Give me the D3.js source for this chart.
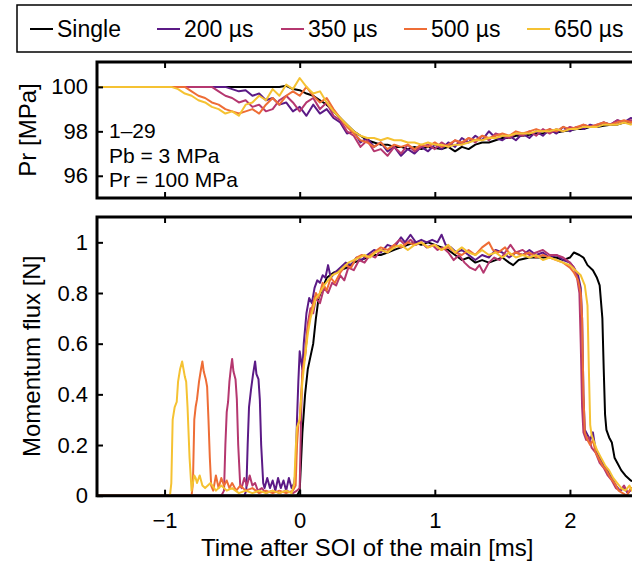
<!DOCTYPE html>
<html>
<head>
<meta charset="utf-8">
<script src="https://cdn.jsdelivr.net/npm/d3@7"></script>
<style>
  body { margin: 0; background: #fff; }
  text { font-family: "Liberation Sans", Arial, sans-serif; fill: #000; }
</style>
</head>
<body>
<div id="area"></div>
<script>
// series names and colours
var seriesNames = ['Single', '200 µs', '350 µs', '500 µs', '650 µs'];
var seriesColors = ['#000000', '#5b1a86', '#b5376f', '#ee6d36', '#f5c232'];

// top panel: rail pressure [MPa] on a shared time grid [ms]
var prTime = [-1.5, -1.0, -0.95, -0.9, -0.85, -0.8, -0.75, -0.7, -0.65, -0.6, -0.55, -0.5, -0.45, -0.4, -0.35, -0.3, -0.25, -0.2, -0.15, -0.1, -0.05, 0,
  0.05, 0.1, 0.15, 0.2, 0.25, 0.3, 0.35, 0.4, 0.45, 0.5, 0.55, 0.6, 0.65, 0.7, 0.75, 0.8, 0.85, 0.9, 0.95, 1.0,
  1.05, 1.1, 1.15, 1.2, 1.25, 1.3, 1.35, 1.4, 1.45, 1.5, 1.55, 1.6, 1.65, 1.7, 1.75, 1.8, 1.85, 1.9, 1.95, 2.0,
  2.05, 2.1, 2.15, 2.2, 2.25, 2.3, 2.35, 2.4, 2.45, 2.5];

var prSingle = [100, 100, 100, 100, 100, 100, 100, 100, 100, 100, 100, 100, 100, 100, 100, 100, 100, 100, 100, 100.05, 99.9, 99.85,
  99.7, 99.6, 99.4, 99.2, 98.9, 98.6, 98.3, 98.0, 97.8, 97.6, 97.5, 97.4, 97.4, 97.3, 97.3, 97.2, 97.3, 97.2, 97.3, 97.25,
  97.2, 97.3, 97.1, 97.3, 97.2, 97.4, 97.5, 97.5, 97.6, 97.7, 97.7, 97.8, 97.8, 97.85, 97.9, 97.9, 98.0, 97.95, 98.0, 98.05,
  98.1, 98.1, 98.2, 98.2, 98.25, 98.3, 98.3, 98.4, 98.4, 98.45];
var pr200 = [100, 100, 100, 100, 100, 100, 100, 100, 100, 100, 100, 99.9, 99.8, 99.85, 99.6, 99.7, 99.4, 99.5, 99.2, 99.3, 98.9, 99.1,
  98.7, 99.2, 98.8, 99.0, 98.6, 98.4, 97.9, 98.0, 97.5, 97.7, 97.3, 97.5, 97.1, 97.3, 96.9, 97.2, 97.0, 97.3, 97.1, 97.4,
  97.2, 97.5, 97.3, 97.7, 97.5, 97.8, 97.6, 98.0, 97.7, 97.6, 97.8, 97.6, 97.9, 97.7, 98.0, 97.8, 98.1, 97.9, 98.2, 98.0,
  98.2, 98.1, 98.3, 98.2, 98.4, 98.3, 98.5, 98.4, 98.6, 98.5];
var pr350 = [100, 100, 100, 100, 100, 100, 100, 100, 100, 99.8, 99.6, 99.5, 99.3, 99.4, 99.1, 99.2, 98.9, 99.0, 99.4, 99.6, 99.3, 98.9,
  99.3, 99.5, 99.0, 99.3, 98.7, 98.5, 98.0, 97.8, 97.3, 97.6, 97.1, 97.2, 96.9, 97.3, 97.0, 97.4, 97.1, 97.3, 97.4, 97.2,
  97.5, 97.3, 97.6, 97.4, 97.7, 97.5, 97.8, 97.6, 97.9, 97.8, 97.7, 97.9, 97.8, 98.0, 97.8, 98.1, 97.9, 98.1, 98.0, 98.2,
  98.1, 98.3, 98.2, 98.3, 98.4, 98.3, 98.5, 98.4, 98.5, 98.4];
var pr500 = [100, 100, 100, 100, 100, 99.8, 99.6, 99.5, 99.3, 99.2, 99.0, 98.9, 98.8, 98.9, 99.0, 98.8, 99.2, 99.5, 99.2, 99.6, 99.8, 99.6,
  100.0, 99.6, 99.3, 99.5, 99.0, 98.6, 98.2, 97.9, 97.6, 97.5, 97.3, 97.5, 97.2, 97.4, 97.3, 97.4, 97.2, 97.4, 97.3, 97.5,
  97.3, 97.4, 97.6, 97.5, 97.7, 97.6, 97.8, 97.7, 97.8, 97.9, 97.8, 98.0, 97.9, 98.0, 98.1, 98.0, 98.1, 98.0, 98.2, 98.1,
  98.2, 98.3, 98.2, 98.3, 98.4, 98.3, 98.4, 98.5, 98.4, 98.5];
var pr650 = [100, 100, 100, 99.9, 99.7, 99.6, 99.4, 99.3, 99.1, 99.0, 98.8, 98.9, 98.7, 99.2, 99.3, 99.6, 99.4, 99.9, 99.6, 100.1, 99.9, 100.4,
  100.0, 99.7, 99.8, 99.3, 98.9, 98.6, 98.3, 98.0, 97.8, 97.7, 97.7, 97.6, 97.7, 97.6, 97.6, 97.5, 97.5, 97.4, 97.5, 97.4,
  97.4, 97.3, 97.4, 97.4, 97.5, 97.6, 97.6, 97.7, 97.7, 97.8, 97.8, 97.9, 97.9, 97.9, 98.0, 98.0, 98.0, 98.1, 98.0, 98.1,
  98.1, 98.2, 98.2, 98.2, 98.3, 98.3, 98.3, 98.4, 98.3, 98.4];

// bottom panel: momentum flux [N], pairs of [time ms, value N]
var mfSingle = [[-1.5,0],[-0.02,0],[0.0,0.02],[0.02,0.25],[0.04,0.4],[0.06,0.5],[0.08,0.55],[0.1,0.6],[0.12,0.7],[0.14,0.78],[0.17,0.82],
  [0.2,0.86],[0.25,0.88],[0.3,0.89],[0.35,0.9],[0.4,0.92],[0.45,0.93],[0.5,0.94],[0.55,0.95],[0.6,0.95],[0.65,0.96],[0.7,0.97],
  [0.75,0.98],[0.8,0.99],[0.85,1.0],[0.9,0.99],[0.95,1.0],[1.0,0.99],[1.05,0.98],[1.1,0.97],[1.15,0.95],[1.2,0.93],[1.25,0.94],
  [1.3,0.92],[1.35,0.93],[1.4,0.92],[1.45,0.93],[1.5,0.94],[1.55,0.92],[1.58,0.91],[1.62,0.93],[1.7,0.94],[1.8,0.94],[1.9,0.94],
  [1.95,0.93],[2.0,0.94],[2.03,0.96],[2.07,0.95],[2.1,0.94],[2.13,0.91],[2.17,0.89],[2.2,0.86],[2.22,0.83],[2.24,0.7],[2.25,0.5],
  [2.26,0.32],[2.27,0.26],[2.29,0.23],[2.31,0.21],[2.33,0.15],[2.35,0.13],[2.38,0.1],[2.41,0.08],[2.45,0.06],[2.5,0.05]];
var mf200 = [[-1.5,0],[-0.41,0],[-0.395,0.02],[-0.385,0.2],[-0.375,0.35],[-0.36,0.42],[-0.345,0.48],[-0.33,0.53],[-0.32,0.48],[-0.305,0.46],
  [-0.295,0.38],[-0.285,0.2],[-0.27,0.05],[-0.26,0.03],[-0.24,0.07],[-0.22,0.03],[-0.2,0.06],[-0.18,0.02],[-0.16,0.07],[-0.14,0.03],
  [-0.12,0.06],[-0.1,0.02],[-0.08,0.07],[-0.06,0.03],[-0.04,0.05],[-0.03,0.1],[-0.02,0.3],[-0.01,0.45],[0.0,0.57],[0.02,0.5],
  [0.03,0.6],[0.05,0.72],[0.07,0.78],[0.09,0.76],[0.11,0.82],[0.13,0.85],[0.15,0.84],[0.17,0.87],[0.19,0.86],[0.21,0.91],[0.23,0.86],
  [0.26,0.88],[0.3,0.9],[0.34,0.92],[0.38,0.91],[0.42,0.94],[0.46,0.93],[0.5,0.95],[0.55,0.97],[0.6,0.96],[0.65,0.99],[0.7,0.98],
  [0.75,1.02],[0.78,1.0],[0.82,1.03],[0.86,1.0],[0.9,1.01],[0.94,1.0],[0.98,1.01],[1.02,1.0],[1.05,1.03],[1.08,0.99],[1.12,0.98],
  [1.16,0.96],[1.2,0.97],[1.25,0.95],[1.3,0.93],[1.35,0.95],[1.4,0.94],[1.45,0.97],[1.5,0.96],[1.55,0.94],[1.6,0.96],[1.65,0.95],
  [1.7,0.97],[1.75,0.95],[1.8,0.96],[1.85,0.94],[1.9,0.95],[1.95,0.93],[2.0,0.92],[2.03,0.9],[2.06,0.87],[2.08,0.82],[2.09,0.7],
  [2.1,0.4],[2.11,0.26],[2.13,0.24],[2.15,0.22],[2.17,0.25],[2.19,0.18],[2.22,0.15],[2.25,0.12],[2.28,0.1],[2.31,0.07],[2.34,0.04],
  [2.37,0.02],[2.4,0.03],[2.43,0.01],[2.46,0.03],[2.5,0.02]];
var mf350 = [[-1.5,0],[-0.58,0],[-0.56,0.02],[-0.55,0.2],[-0.54,0.33],[-0.53,0.37],[-0.52,0.45],[-0.51,0.5],[-0.5,0.54],[-0.49,0.49],
  [-0.475,0.46],[-0.465,0.38],[-0.455,0.2],[-0.44,0.04],[-0.43,0.03],[-0.41,0.07],[-0.39,0.04],[-0.37,0.08],[-0.35,0.04],[-0.33,0.05],
  [-0.31,0.02],[-0.28,0.03],[-0.25,0.01],[-0.2,0.02],[-0.15,0.01],[-0.1,0.02],[-0.05,0.01],[-0.02,0.02],[0.0,0.03],[0.01,0.3],
  [0.02,0.5],[0.04,0.55],[0.06,0.68],[0.08,0.74],[0.1,0.72],[0.12,0.78],[0.15,0.76],[0.18,0.82],[0.21,0.8],[0.24,0.84],[0.27,0.83],
  [0.3,0.87],[0.33,0.85],[0.36,0.9],[0.4,0.89],[0.44,0.93],[0.48,0.92],[0.52,0.95],[0.56,0.94],[0.6,0.97],[0.65,0.96],[0.7,0.99],
  [0.74,1.01],[0.78,0.99],[0.82,1.01],[0.86,0.99],[0.9,1.0],[0.94,0.98],[0.98,0.99],[1.02,0.97],[1.06,0.98],[1.1,0.96],[1.14,0.93],
  [1.18,0.95],[1.22,0.92],[1.26,0.9],[1.3,0.89],[1.33,0.91],[1.36,0.88],[1.4,0.92],[1.44,0.94],[1.48,0.93],[1.52,0.96],[1.56,0.99],
  [1.6,0.96],[1.65,0.97],[1.7,0.95],[1.75,0.96],[1.8,0.97],[1.85,0.95],[1.9,0.95],[1.95,0.94],[2.0,0.92],[2.03,0.9],[2.05,0.87],
  [2.07,0.8],[2.08,0.6],[2.09,0.35],[2.1,0.25],[2.12,0.22],[2.14,0.23],[2.16,0.19],[2.19,0.17],[2.22,0.13],[2.25,0.11],[2.28,0.08],
  [2.31,0.06],[2.34,0.03],[2.37,0.02],[2.4,0.04],[2.43,0.01],[2.46,0.03],[2.5,0.02]];
var mf500 = [[-1.5,0],[-0.8,0],[-0.79,0.05],[-0.78,0.3],[-0.77,0.35],[-0.76,0.38],[-0.745,0.45],[-0.73,0.5],[-0.72,0.53],[-0.71,0.49],
  [-0.695,0.46],[-0.685,0.43],[-0.675,0.3],[-0.665,0.15],[-0.655,0.04],[-0.64,0.02],[-0.62,0.08],[-0.6,0.03],[-0.58,0.07],[-0.56,0.04],
  [-0.54,0.06],[-0.52,0.03],[-0.5,0.05],[-0.47,0.02],[-0.44,0.04],[-0.4,0.02],[-0.35,0.03],[-0.3,0.01],[-0.25,0.02],[-0.2,0.01],
  [-0.15,0.02],[-0.1,0.01],[-0.05,0.02],[-0.03,0.04],[-0.02,0.2],[-0.01,0.28],[0.0,0.3],[0.02,0.48],[0.04,0.56],[0.06,0.66],
  [0.08,0.72],[0.1,0.76],[0.12,0.8],[0.14,0.78],[0.17,0.84],[0.2,0.81],[0.23,0.86],[0.26,0.84],[0.3,0.88],[0.34,0.91],[0.38,0.9],
  [0.42,0.94],[0.46,0.95],[0.5,0.94],[0.55,0.96],[0.6,0.98],[0.65,0.97],[0.7,0.99],[0.75,0.98],[0.8,1.0],[0.85,0.99],[0.9,1.0],
  [0.95,0.98],[1.0,0.99],[1.05,0.97],[1.1,0.98],[1.15,0.96],[1.2,0.95],[1.25,0.97],[1.3,0.95],[1.35,0.98],[1.4,1.0],[1.43,0.97],
  [1.47,0.96],[1.52,0.98],[1.56,0.95],[1.6,0.96],[1.65,0.95],[1.7,0.96],[1.75,0.94],[1.8,0.95],[1.85,0.94],[1.9,0.93],[1.95,0.92],
  [2.0,0.9],[2.03,0.88],[2.06,0.85],[2.08,0.8],[2.09,0.7],[2.1,0.4],[2.11,0.25],[2.13,0.22],[2.15,0.2],[2.17,0.22],[2.19,0.17],
  [2.21,0.15],[2.24,0.12],[2.27,0.1],[2.3,0.07],[2.33,0.05],[2.36,0.02],[2.39,0.01],[2.42,0.0],[2.45,0.03],[2.5,0.01]];
var mf650 = [[-1.5,0],[-0.96,0],[-0.95,0.05],[-0.94,0.3],[-0.925,0.35],[-0.91,0.37],[-0.9,0.45],[-0.885,0.5],[-0.87,0.53],[-0.86,0.5],
  [-0.85,0.47],[-0.84,0.45],[-0.83,0.35],[-0.815,0.15],[-0.8,0.02],[-0.79,0.05],[-0.78,0.08],[-0.77,0.07],[-0.76,0.05],[-0.74,0.08],
  [-0.72,0.04],[-0.7,0.03],[-0.66,0.05],[-0.62,0.02],[-0.58,0.04],[-0.54,0.02],[-0.5,0.03],[-0.45,0.01],[-0.4,0.02],[-0.35,0.01],
  [-0.3,0.02],[-0.25,0.01],[-0.2,0.02],[-0.15,0.01],[-0.1,0.02],[-0.06,0.01],[-0.04,0.05],[-0.03,0.18],[-0.02,0.27],[0.0,0.3],
  [0.02,0.45],[0.04,0.55],[0.06,0.64],[0.08,0.7],[0.1,0.74],[0.12,0.78],[0.15,0.8],[0.18,0.83],[0.21,0.85],[0.24,0.87],[0.28,0.88],
  [0.32,0.9],[0.36,0.92],[0.4,0.93],[0.44,0.94],[0.48,0.95],[0.52,0.94],[0.56,0.96],[0.6,0.97],[0.65,0.96],[0.7,0.98],[0.75,0.99],
  [0.8,0.97],[0.85,0.99],[0.9,1.0],[0.95,0.98],[1.0,0.99],[1.05,0.97],[1.1,0.99],[1.15,0.96],[1.2,0.98],[1.25,0.96],[1.3,0.95],
  [1.35,0.97],[1.4,0.95],[1.45,0.96],[1.5,0.94],[1.55,0.96],[1.6,0.94],[1.65,0.95],[1.7,0.94],[1.75,0.95],[1.8,0.93],[1.85,0.94],
  [1.9,0.93],[1.95,0.92],[2.0,0.91],[2.04,0.89],[2.08,0.87],[2.11,0.83],[2.13,0.75],[2.14,0.5],[2.15,0.28],[2.16,0.24],[2.18,0.21],
  [2.2,0.18],[2.23,0.15],[2.26,0.12],[2.29,0.1],[2.32,0.07],[2.35,0.05],[2.38,0.03],[2.41,0.02],[2.44,0.04],[2.47,0.01],[2.5,0.02]];

// tick labels
var xTicks = [-1, 0, 1, 2];
var prTicks = [96, 98, 100];
var mfTicks = [0, 0.2, 0.4, 0.6, 0.8, 1];
var annotation = ['1–29', 'Pb = 3 MPa', 'Pr = 100 MPa'];

var width = 632, height = 564;
var left = 97, right = 637.5;
var topPanel = {top: 62, bottom: 198};
var botPanel = {top: 217, bottom: 495.7};

var svg = d3.select('#area').append('svg')
    .attr('width', width)
    .attr('height', height);

var x = d3.scaleLinear().domain([-1.5, 2.5]).range([left, right]);
var yPr = d3.scaleLinear().domain([95, 101.12]).range([topPanel.bottom, topPanel.top]);
var yMf = d3.scaleLinear().domain([0, 1.1]).range([botPanel.bottom, botPanel.top]);

var fmt = d3.format('~g');

// clip paths for both panels
var defs = svg.append('defs');
defs.append('clipPath').attr('id', 'clipTop').append('rect')
  .attr('x', left).attr('y', topPanel.top)
  .attr('width', right - left).attr('height', topPanel.bottom - topPanel.top);
defs.append('clipPath').attr('id', 'clipBot').append('rect')
  .attr('x', left).attr('y', botPanel.top)
  .attr('width', right - left).attr('height', botPanel.bottom - botPanel.top);

// top panel lines
var prSeries = [prSingle, pr200, pr350, pr500, pr650];
var prLine = d3.line()
  .x(function(d, i) { return x(prTime[i]); })
  .y(function(d) { return yPr(d); });

svg.append('g').attr('clip-path', 'url(#clipTop)')
  .selectAll('path')
  .data(prSeries)
  .enter().append('path')
  .attr('fill', 'none')
  .attr('stroke', function(d, i) { return seriesColors[i]; })
  .attr('stroke-width', 2)
  .attr('stroke-linejoin', 'round')
  .attr('d', prLine);

// bottom panel lines
var mfSeries = [mfSingle, mf200, mf350, mf500, mf650];
var mfLine = d3.line()
  .x(function(d) { return x(d[0]); })
  .y(function(d) { return yMf(d[1]); });

svg.append('g').attr('clip-path', 'url(#clipBot)')
  .selectAll('path')
  .data(mfSeries)
  .enter().append('path')
  .attr('fill', 'none')
  .attr('stroke', function(d, i) { return seriesColors[i]; })
  .attr('stroke-width', 2)
  .attr('stroke-linejoin', 'round')
  .attr('d', mfLine);

// axes with inward ticks
function drawAxes(panel, yScale, yTicks, showX) {
  var bottom = svg.append('g')
    .attr('transform', 'translate(0,' + panel.bottom + ')')
    .call(d3.axisBottom(x).tickValues(xTicks).tickSize(-6).tickPadding(17).tickFormat(showX ? fmt : ''));
  var top = svg.append('g')
    .attr('transform', 'translate(0,' + panel.top + ')')
    .call(d3.axisTop(x).tickValues(xTicks).tickSize(-6).tickFormat(''));
  var leftAx = svg.append('g')
    .attr('transform', 'translate(' + left + ',0)')
    .call(d3.axisLeft(yScale).tickValues(yTicks).tickSize(-6).tickPadding(9).tickFormat(fmt));

  [bottom, top, leftAx].forEach(function(a) {
    a.select('.domain').remove();
    a.selectAll('.tick line').attr('stroke', '#000').attr('stroke-width', 2);
    a.selectAll('.tick text').style('font-size', '22px').attr('fill', '#000');
  });

  // frame
  svg.append('path')
    .attr('fill', 'none')
    .attr('stroke', '#000')
    .attr('stroke-width', 3)
    .attr('d', 'M' + (right + 5) + ',' + panel.top + 'H' + left + 'V' + panel.bottom + 'H' + (right + 5));
}

drawAxes(topPanel, yPr, prTicks, false);
drawAxes(botPanel, yMf, mfTicks, true);

// annotation in top panel
svg.append('g').selectAll('text')
  .data(annotation)
  .enter().append('text')
  .attr('x', 109)
  .attr('y', function(d, i) { return 138 + i * 24.5; })
  .style('font-size', '21px')
  .text(function(d) { return d; });

// axis labels
svg.append('text')
  .attr('transform', 'translate(36,' + (topPanel.top + topPanel.bottom) / 2 + ') rotate(-90)')
  .attr('text-anchor', 'middle')
  .style('font-size', '24px')
  .text('Pr [MPa]');

svg.append('text')
  .attr('transform', 'translate(40,' + (botPanel.top + botPanel.bottom) / 2 + ') rotate(-90)')
  .attr('text-anchor', 'middle')
  .style('font-size', '24px')
  .text('Momentum flux [N]');

svg.append('text')
  .attr('x', (left + right) / 2)
  .attr('y', 556)
  .attr('text-anchor', 'middle')
  .style('font-size', '24px')
  .text('Time after SOI of the main [ms]');

// legend
svg.append('rect')
  .attr('x', 17).attr('y', 5)
  .attr('width', 700).attr('height', 47)
  .attr('fill', '#fff')
  .attr('stroke', '#000')
  .attr('stroke-width', 1.5);

var legendX = [30, 157, 281, 404, 527];
var legend = svg.selectAll('.legend')
  .data(seriesNames)
  .enter().append('g')
  .attr('class', 'legend')
  .attr('transform', function(d, i) { return 'translate(' + legendX[i] + ',29)'; });

legend.append('line')
  .attr('x1', 0).attr('x2', 23)
  .attr('stroke', function(d, i) { return seriesColors[i]; })
  .attr('stroke-width', 2);

legend.append('text')
  .attr('x', 27)
  .attr('dy', '0.35em')
  .style('font-size', '23px')
  .text(function(d) { return d; });
</script>
</body>
</html>
